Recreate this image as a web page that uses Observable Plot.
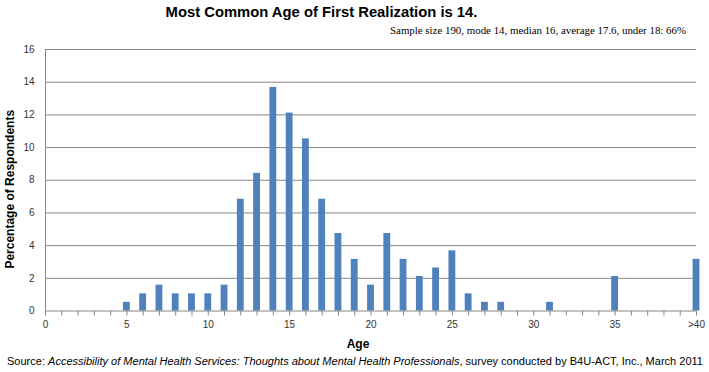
<!DOCTYPE html>
<html>
<head>
<meta charset="utf-8">
<script src="https://cdn.jsdelivr.net/npm/d3@7"></script>
<script src="https://cdn.jsdelivr.net/npm/@observablehq/plot@0.6"></script>
<style>
  html, body { margin: 0; padding: 0; background: white; width: 709px; height: 372px; overflow: hidden; }
  body { font-family: "Liberation Sans", Arial, sans-serif; color: #000; }
  #title { height: 22px; line-height: 22px; padding-top: 1px; box-sizing: border-box; text-align: center; padding-right: 66px; font-weight: bold; font-size: 14px; white-space: nowrap; }
  #subtitle { height: 16px; line-height: 16px; text-align: right; padding-right: 23px; font-family: "Liberation Serif", "Times New Roman", serif; font-size: 10.5px; white-space: nowrap; }
  #chart svg { display: block; }
  #caption { height: 22px; line-height: 18px; padding-top: 2px; padding-left: 7px; box-sizing: border-box; font-size: 10.5px; white-space: nowrap; color: #000; }
</style>
</head>
<body>
<div id="title"><span>Most Common Age of First Realization is 14.</span></div>
<div id="subtitle"><span>Sample size 190, mode 14, median 16, average 17.6, under 18: 66%</span></div>
<div id="chart"></div>
<div id="caption"><span>Source: <i>Accessibility of Mental Health Services: Thoughts about Mental Health Professionals</i>, survey conducted by B4U-ACT, Inc., March 2011</span></div>
<script>
// Ages (40 stands for ">40") and percentage of respondents
const ages = [5, 6, 7, 8, 9, 10, 11, 12, 13, 14, 15, 16, 17, 18, 19, 20, 21, 22, 23, 24, 25, 26, 27, 28, 31, 35, 40];
const pct  = [0.53, 1.05, 1.58, 1.05, 1.05, 1.05, 1.58, 6.84, 8.42, 13.68, 12.11, 10.53, 6.84, 4.74, 3.16, 1.58, 4.74, 3.16, 2.11, 2.63, 3.68, 1.05, 0.53, 0.53, 0.53, 2.11, 3.16];
const yTicks = [0, 2, 4, 6, 8, 10, 12, 14, 16];
const xTickValues = [0, 5, 10, 15, 20, 25, 30, 35, 40];
const xTickLabels = ["0", "5", "10", "15", "20", "25", "30", "35", ">40"];

const data = ages.map((a, i) => ({age: a, pct: pct[i]}));
const allTicks = d3.range(0, 41);
const labelOf = t => { const k = xTickValues.indexOf(t); return k >= 0 ? xTickLabels[k] : ""; };

const chart = Plot.plot({
  width: 709,
  height: 312,
  marginLeft: 45,
  marginRight: 13,
  marginTop: 11,
  marginBottom: 39.5,
  x: {domain: [0, 40], label: null},
  y: {domain: [0, 16], label: null},
  style: {fontFamily: "'Liberation Sans', Arial, sans-serif", fontSize: "10px", color: "#222", background: "white", overflow: "visible"},
  marks: [
    Plot.gridY(yTicks.filter(t => t > 0), {stroke: "#868686", strokeOpacity: 1}),
    Plot.ruleX([0], {stroke: "#868686"}),
    Plot.rectY(data, {x1: d => d.age - 0.21, x2: d => d.age + 0.21, y1: 0, y2: d => d.pct, fill: "#4F81BD"}),
    Plot.ruleY([0], {stroke: "#868686"}),
    Plot.axisY({ticks: yTicks, tickSize: 0, tickPadding: 11, label: null, fill: "#333"}),
    Plot.axisX({ticks: allTicks, tickSize: 5, tickPadding: 5, tickFormat: labelOf, stroke: "#868686", fill: "#333", label: null}),
    Plot.text(["Percentage of Respondents"], {text: d => d, frameAnchor: "left", textAnchor: "middle", lineAnchor: "middle", rotate: -90, dx: -35, dy: 9, fontWeight: "bold", fontSize: 12, fill: "#000"}),
    Plot.text(["Age"], {text: d => d, frameAnchor: "bottom", textAnchor: "middle", dx: -13, dy: 33.5, lineAnchor: "middle", fontWeight: "bold", fontSize: 12, fill: "#000"})
  ]
});
document.getElementById("chart").appendChild(chart);

// fit text widths to reference extents
function fit(id, target) {
  const el = document.getElementById(id);
  const span = el.querySelector("span");
  const fs = parseFloat(getComputedStyle(el).fontSize);
  const w = span.getBoundingClientRect().width;
  if (w > 0) el.style.fontSize = (fs * target / w).toFixed(2) + "px";
}
fit("title", 312);
fit("subtitle", 296);
fit("caption", 696);
</script>
</body>
</html>
